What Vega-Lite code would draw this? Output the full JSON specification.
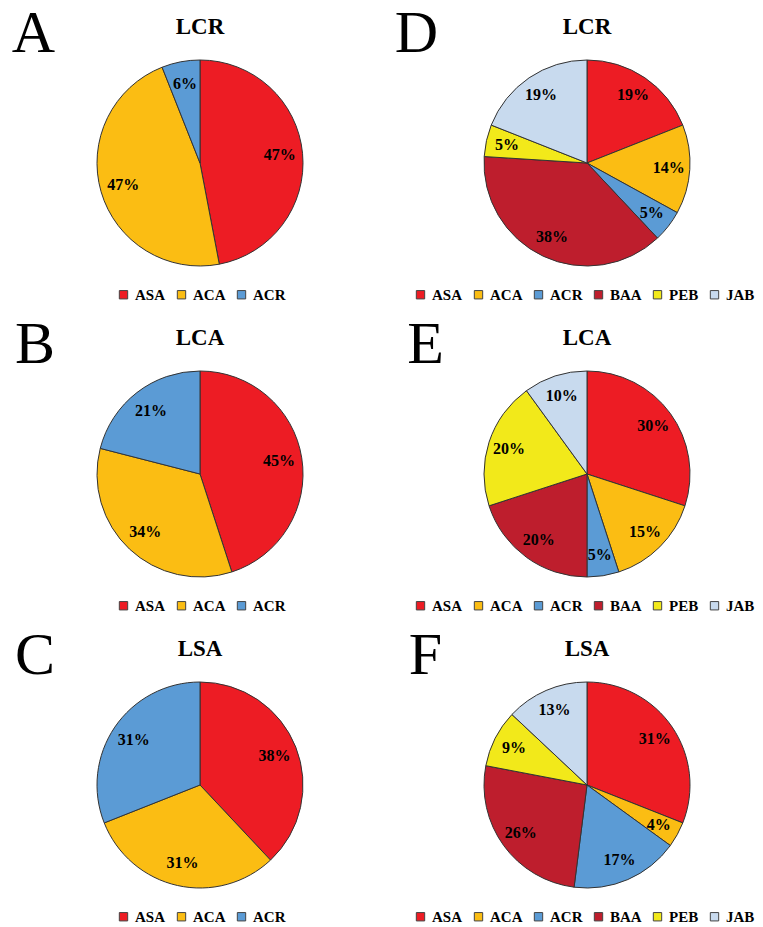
{
  "$schema": "https://vega.github.io/schema/vega-lite/v6.json",
  "padding": {"left": 11, "top": 4, "right": 0, "bottom": 0},
  "background": "white",
  "spacing": 12,
  "datasets": {
    "pies": [
      {"panel": "A", "sp": "ASA", "idx": 1, "v": 0.47},
      {"panel": "A", "sp": "ACA", "idx": 2, "v": 0.47},
      {"panel": "A", "sp": "ACR", "idx": 3, "v": 0.06},
      {"panel": "B", "sp": "ASA", "idx": 1, "v": 0.45},
      {"panel": "B", "sp": "ACA", "idx": 2, "v": 0.34},
      {"panel": "B", "sp": "ACR", "idx": 3, "v": 0.21},
      {"panel": "C", "sp": "ASA", "idx": 1, "v": 0.38},
      {"panel": "C", "sp": "ACA", "idx": 2, "v": 0.31},
      {"panel": "C", "sp": "ACR", "idx": 3, "v": 0.31},
      {"panel": "D", "sp": "ASA", "idx": 1, "v": 0.19},
      {"panel": "D", "sp": "ACA", "idx": 2, "v": 0.14},
      {"panel": "D", "sp": "ACR", "idx": 3, "v": 0.05},
      {"panel": "D", "sp": "BAA", "idx": 4, "v": 0.38},
      {"panel": "D", "sp": "PEB", "idx": 5, "v": 0.05},
      {"panel": "D", "sp": "JAB", "idx": 6, "v": 0.19},
      {"panel": "E", "sp": "ASA", "idx": 1, "v": 0.30},
      {"panel": "E", "sp": "ACA", "idx": 2, "v": 0.15},
      {"panel": "E", "sp": "ACR", "idx": 3, "v": 0.05},
      {"panel": "E", "sp": "BAA", "idx": 4, "v": 0.20},
      {"panel": "E", "sp": "PEB", "idx": 5, "v": 0.20},
      {"panel": "E", "sp": "JAB", "idx": 6, "v": 0.10},
      {"panel": "F", "sp": "ASA", "idx": 1, "v": 0.31},
      {"panel": "F", "sp": "ACA", "idx": 2, "v": 0.04},
      {"panel": "F", "sp": "ACR", "idx": 3, "v": 0.17},
      {"panel": "F", "sp": "BAA", "idx": 4, "v": 0.26},
      {"panel": "F", "sp": "PEB", "idx": 5, "v": 0.09},
      {"panel": "F", "sp": "JAB", "idx": 6, "v": 0.13}
    ]
  },
  "config": {
    "view": {"stroke": null},
    "title": {"font": "Liberation Serif", "fontWeight": "bold", "fontSize": 23, "color": "#000", "offset": 16},
    "legend": {
      "orient": "none",
      "direction": "horizontal",
      "title": null,
      "symbolType": "square",
      "symbolSize": 70,
      "symbolStrokeColor": "#444",
      "symbolStrokeWidth": 1,
      "symbolOpacity": 1,
      "labelFont": "Liberation Serif",
      "labelFontWeight": "bold",
      "labelFontSize": 15,
      "labelColor": "#000",
      "labelOffset": 4,
      "columnPadding": 8,
      "legendY": 232
    }
  },
  "vconcat": [
    {
      "spacing": 64,
      "hconcat": [
        {
          "title": {"text": "A", "orient": "left", "angle": 0, "anchor": "end", "align": "left", "fontSize": 60, "fontWeight": "normal", "offset": 15, "dy": -11},
          "vconcat": [
            {
              "title": "LCR", "width": 260, "height": 216,
              "data": {"name": "pies"},
              "transform": [{"filter": "datum.panel === 'A'"}],
              "layer": [
                {"mark": {"type": "arc", "outerRadius": 103, "stroke": "#333", "strokeWidth": 1},
                 "encoding": {"theta": {"field": "v", "type": "quantitative", "stack": true}, "order": {"field": "idx"},
                   "color": {"field": "sp", "type": "nominal", "scale": {"domain": ["ASA", "ACA", "ACR"], "range": ["#ED1C24", "#FBBD13", "#5B9BD5"]}, "sort": ["ASA", "ACA", "ACR"], "legend": {"legendX": 46}}}},
                {"mark": {"type": "text", "radius": 80, "font": "Liberation Serif", "fontWeight": "bold", "fontSize": 16, "color": "#000"},
                 "encoding": {"theta": {"field": "v", "type": "quantitative", "stack": true}, "order": {"field": "idx"}, "detail": {"field": "sp"},
                   "text": {"field": "v", "type": "quantitative", "format": ".0%"}}}
              ]
            }
          ]
        },
        {
          "title": {"text": "D", "orient": "left", "angle": 0, "anchor": "end", "align": "left", "fontSize": 60, "fontWeight": "normal", "offset": -25, "dy": -11},
          "vconcat": [
            {
              "title": "LCR", "width": 260, "height": 216,
              "data": {"name": "pies"},
              "transform": [{"filter": "datum.panel === 'D'"}],
              "layer": [
                {"mark": {"type": "arc", "outerRadius": 103, "stroke": "#333", "strokeWidth": 1},
                 "encoding": {"theta": {"field": "v", "type": "quantitative", "stack": true}, "order": {"field": "idx"},
                   "color": {"field": "sp", "type": "nominal", "scale": {"domain": ["ASA", "ACA", "ACR", "BAA", "PEB", "JAB"], "range": ["#ED1C24", "#FBBD13", "#5B9BD5", "#BE1E2D", "#F2E91A", "#C8DAEE"]}, "sort": ["ASA", "ACA", "ACR", "BAA", "PEB", "JAB"], "legend": {"legendX": -44}}}},
                {"mark": {"type": "text", "radius": 82, "font": "Liberation Serif", "fontWeight": "bold", "fontSize": 16, "color": "#000"},
                 "encoding": {"theta": {"field": "v", "type": "quantitative", "stack": true}, "order": {"field": "idx"}, "detail": {"field": "sp"},
                   "text": {"field": "v", "type": "quantitative", "format": ".0%"}}}
              ]
            }
          ]
        }
      ],
      "resolve": {"scale": {"color": "independent"}, "legend": {"color": "independent"}}
    },
    {
      "spacing": 77,
      "hconcat": [
        {
          "title": {"text": "B", "orient": "left", "angle": 0, "anchor": "end", "align": "left", "fontSize": 60, "fontWeight": "normal", "offset": 15, "dy": -11},
          "vconcat": [
            {
              "title": "LCA", "width": 260, "height": 216,
              "data": {"name": "pies"},
              "transform": [{"filter": "datum.panel === 'B'"}],
              "layer": [
                {"mark": {"type": "arc", "outerRadius": 103, "stroke": "#333", "strokeWidth": 1},
                 "encoding": {"theta": {"field": "v", "type": "quantitative", "stack": true}, "order": {"field": "idx"},
                   "color": {"field": "sp", "type": "nominal", "scale": {"domain": ["ASA", "ACA", "ACR"], "range": ["#ED1C24", "#FBBD13", "#5B9BD5"]}, "sort": ["ASA", "ACA", "ACR"], "legend": {"legendX": 46}}}},
                {"mark": {"type": "text", "radius": 80, "font": "Liberation Serif", "fontWeight": "bold", "fontSize": 16, "color": "#000"},
                 "encoding": {"theta": {"field": "v", "type": "quantitative", "stack": true}, "order": {"field": "idx"}, "detail": {"field": "sp"},
                   "text": {"field": "v", "type": "quantitative", "format": ".0%"}}}
              ]
            }
          ]
        },
        {
          "title": {"text": "E", "orient": "left", "angle": 0, "anchor": "end", "align": "left", "fontSize": 60, "fontWeight": "normal", "offset": -31, "dy": -11},
          "vconcat": [
            {
              "title": "LCA", "width": 260, "height": 216,
              "data": {"name": "pies"},
              "transform": [{"filter": "datum.panel === 'E'"}],
              "layer": [
                {"mark": {"type": "arc", "outerRadius": 103, "stroke": "#333", "strokeWidth": 1},
                 "encoding": {"theta": {"field": "v", "type": "quantitative", "stack": true}, "order": {"field": "idx"},
                   "color": {"field": "sp", "type": "nominal", "scale": {"domain": ["ASA", "ACA", "ACR", "BAA", "PEB", "JAB"], "range": ["#ED1C24", "#FBBD13", "#5B9BD5", "#BE1E2D", "#F2E91A", "#C8DAEE"]}, "sort": ["ASA", "ACA", "ACR", "BAA", "PEB", "JAB"], "legend": {"legendX": -44}}}},
                {"mark": {"type": "text", "radius": 82, "font": "Liberation Serif", "fontWeight": "bold", "fontSize": 16, "color": "#000"},
                 "encoding": {"theta": {"field": "v", "type": "quantitative", "stack": true}, "order": {"field": "idx"}, "detail": {"field": "sp"},
                   "text": {"field": "v", "type": "quantitative", "format": ".0%"}}}
              ]
            }
          ]
        }
      ],
      "resolve": {"scale": {"color": "independent"}, "legend": {"color": "independent"}}
    },
    {
      "spacing": 78,
      "hconcat": [
        {
          "title": {"text": "C", "orient": "left", "angle": 0, "anchor": "end", "align": "left", "fontSize": 60, "fontWeight": "normal", "offset": 15, "dy": -11},
          "vconcat": [
            {
              "title": "LSA", "width": 260, "height": 216,
              "data": {"name": "pies"},
              "transform": [{"filter": "datum.panel === 'C'"}],
              "layer": [
                {"mark": {"type": "arc", "outerRadius": 103, "stroke": "#333", "strokeWidth": 1},
                 "encoding": {"theta": {"field": "v", "type": "quantitative", "stack": true}, "order": {"field": "idx"},
                   "color": {"field": "sp", "type": "nominal", "scale": {"domain": ["ASA", "ACA", "ACR"], "range": ["#ED1C24", "#FBBD13", "#5B9BD5"]}, "sort": ["ASA", "ACA", "ACR"], "legend": {"legendX": 46}}}},
                {"mark": {"type": "text", "radius": 80, "font": "Liberation Serif", "fontWeight": "bold", "fontSize": 16, "color": "#000"},
                 "encoding": {"theta": {"field": "v", "type": "quantitative", "stack": true}, "order": {"field": "idx"}, "detail": {"field": "sp"},
                   "text": {"field": "v", "type": "quantitative", "format": ".0%"}}}
              ]
            }
          ]
        },
        {
          "title": {"text": "F", "orient": "left", "angle": 0, "anchor": "end", "align": "left", "fontSize": 60, "fontWeight": "normal", "offset": -29, "dy": -11},
          "vconcat": [
            {
              "title": "LSA", "width": 260, "height": 216,
              "data": {"name": "pies"},
              "transform": [{"filter": "datum.panel === 'F'"}],
              "layer": [
                {"mark": {"type": "arc", "outerRadius": 103, "stroke": "#333", "strokeWidth": 1},
                 "encoding": {"theta": {"field": "v", "type": "quantitative", "stack": true}, "order": {"field": "idx"},
                   "color": {"field": "sp", "type": "nominal", "scale": {"domain": ["ASA", "ACA", "ACR", "BAA", "PEB", "JAB"], "range": ["#ED1C24", "#FBBD13", "#5B9BD5", "#BE1E2D", "#F2E91A", "#C8DAEE"]}, "sort": ["ASA", "ACA", "ACR", "BAA", "PEB", "JAB"], "legend": {"legendX": -44}}}},
                {"mark": {"type": "text", "radius": 82, "font": "Liberation Serif", "fontWeight": "bold", "fontSize": 16, "color": "#000"},
                 "encoding": {"theta": {"field": "v", "type": "quantitative", "stack": true}, "order": {"field": "idx"}, "detail": {"field": "sp"},
                   "text": {"field": "v", "type": "quantitative", "format": ".0%"}}}
              ]
            }
          ]
        }
      ],
      "resolve": {"scale": {"color": "independent"}, "legend": {"color": "independent"}}
    }
  ]
}
